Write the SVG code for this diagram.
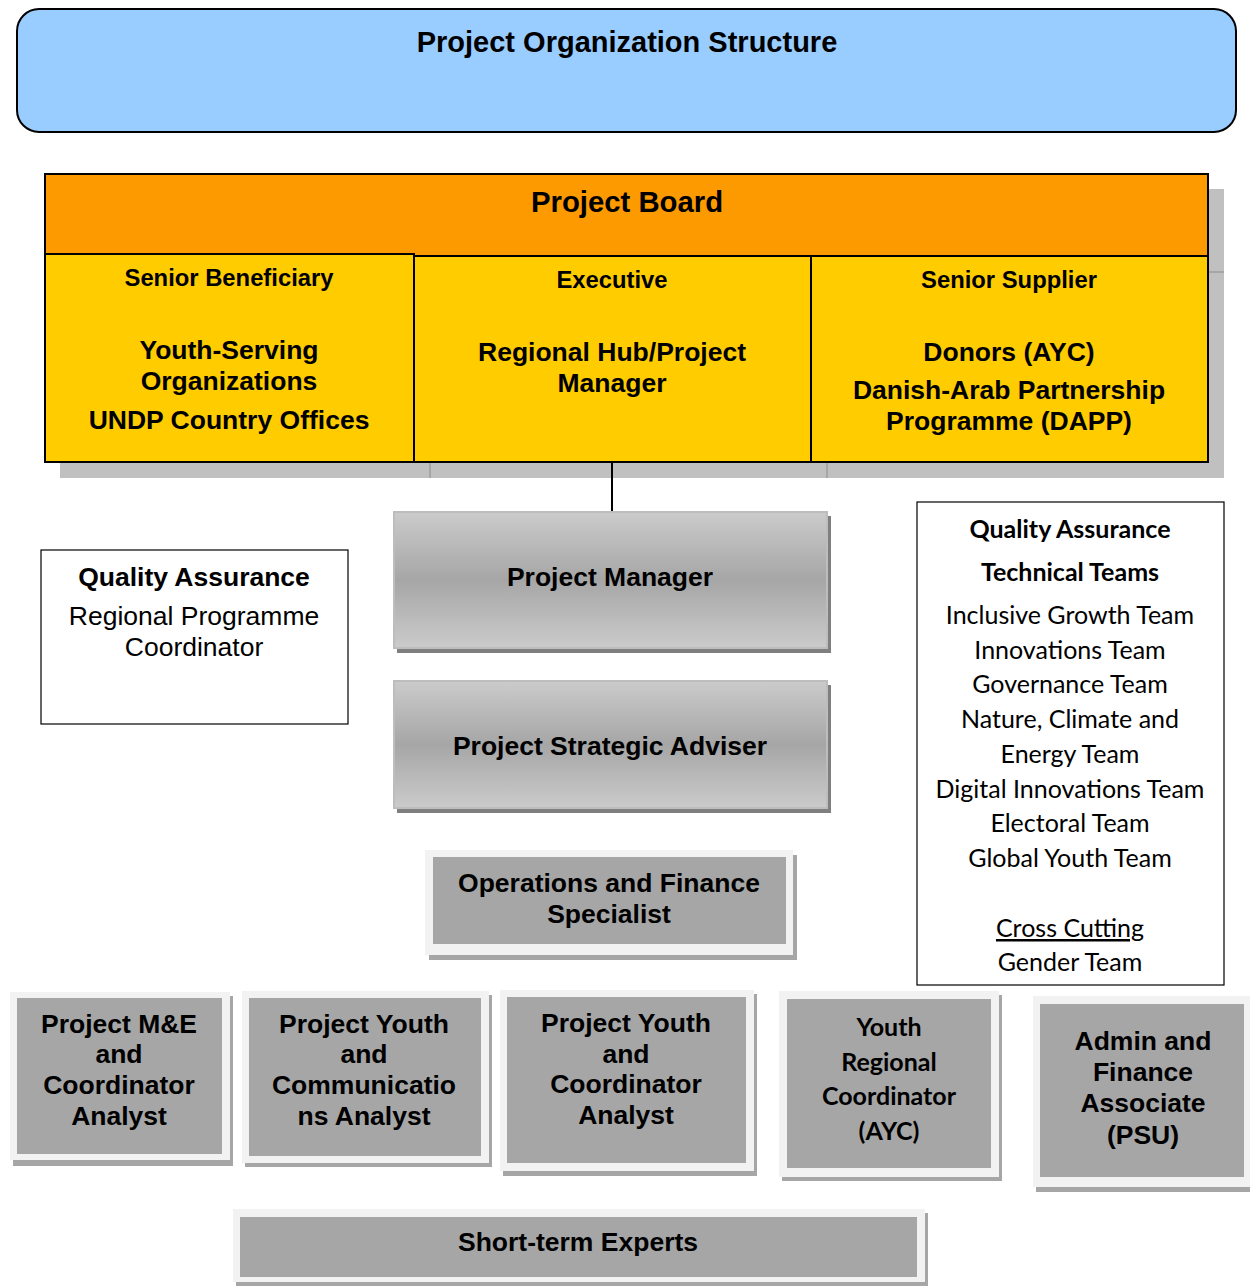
<svg xmlns="http://www.w3.org/2000/svg" width="1250" height="1286" viewBox="0 0 1250 1286">
  <defs>
    <linearGradient id="greyBand" x1="0" y1="0" x2="0" y2="1">
      <stop offset="0" stop-color="#cbcbcb"/>
      <stop offset="0.5" stop-color="#a6a6a6"/>
      <stop offset="1" stop-color="#cbcbcb"/>
    </linearGradient>
    <style>
      text { font-family: "Liberation Sans", Arial, sans-serif; fill: #000; text-anchor: middle; }
      .b { font-weight: bold; }
      .m { font-size: 26.5px; }
      .cal { font-family: "Lato", "Noto Sans", sans-serif; font-size: 25px; }
      .board { stroke: #000; stroke-width: 2; }
      .shadow { fill: #c0c0c0; }
      .gradBox { fill: url(#greyBand); stroke: #bdbdbd; stroke-width: 2; }
      .gradShadow { fill: #7f7f7f; }
      .frame { fill: #f2f2f2; }
      .frameShadow { fill: #a6a6a6; }
      .inner { fill: #a6a6a6; }
      .qa { fill: #fff; stroke: #000; stroke-width: 1.2; }
      .conn { stroke: #000; stroke-width: 2; fill: none; }
    </style>
  </defs>

  <rect width="1250" height="1286" fill="#fff"/>

  <!-- title banner -->
  <g id="title">
    <rect x="17" y="9" width="1219" height="123" rx="22" ry="22" fill="#99ccff" stroke="#000" stroke-width="2"/>
    <text x="627" y="52" class="b" font-size="29">Project Organization Structure</text>
  </g>

  <!-- project board with its three roles -->
  <g id="project-board">
    <rect class="shadow" x="60" y="189" width="1164" height="289"/>
    <line x1="1208" y1="272" x2="1224" y2="272" stroke="#a6a6a6" stroke-width="2"/>
    <line x1="430" y1="462" x2="430" y2="478" stroke="#a6a6a6" stroke-width="2"/>
    <line x1="827" y1="462" x2="827" y2="478" stroke="#a6a6a6" stroke-width="2"/>
    <rect class="board" x="45" y="174" width="1163" height="82" fill="#fc9a00"/>
    <text x="627" y="212" class="b" font-size="29.3">Project Board</text>
  </g>

  <g id="senior-beneficiary">
    <rect class="board" x="45" y="254" width="369" height="208" fill="#ffcc00"/>
    <text x="229" y="286" class="b" font-size="23.8">Senior Beneficiary</text>
    <text x="229" y="359" class="b m">Youth-Serving</text>
    <text x="229" y="390" class="b m">Organizations</text>
    <text x="229" y="429" class="b m">UNDP Country Offices</text>
  </g>

  <g id="executive">
    <rect class="board" x="414" y="256" width="397" height="206" fill="#ffcc00"/>
    <text x="612" y="288" class="b" font-size="23.8">Executive</text>
    <text x="612" y="361" class="b m">Regional Hub/Project</text>
    <text x="612" y="392" class="b m">Manager</text>
  </g>

  <g id="senior-supplier">
    <rect class="board" x="811" y="256" width="397" height="206" fill="#ffcc00"/>
    <text x="1009" y="288" class="b" font-size="23.8">Senior Supplier</text>
    <text x="1009" y="361" class="b m">Donors (AYC)</text>
    <text x="1009" y="399" class="b m">Danish-Arab Partnership</text>
    <text x="1009" y="430" class="b m">Programme (DAPP)</text>
  </g>

  <!-- connectors -->
  <g id="connectors">
    <line class="conn" x1="612" y1="463" x2="612" y2="512"/>
  </g>

  <!-- management line -->
  <g id="project-manager">
    <rect class="gradShadow" x="397" y="516" width="434" height="137"/>
    <rect class="gradBox" x="394" y="512" width="433" height="136"/>
    <text x="610" y="586" class="b m">Project Manager</text>
  </g>

  <g id="project-strategic-adviser">
    <rect class="gradShadow" x="397" y="685" width="434" height="128"/>
    <rect class="gradBox" x="394" y="681" width="433" height="127"/>
    <text x="610" y="755" class="b m">Project Strategic Adviser</text>
  </g>

  <g id="operations-finance">
    <rect class="frameShadow" x="429" y="855" width="368" height="105"/>
    <rect class="frame" x="425" y="850" width="368" height="105"/>
    <rect class="inner" x="433" y="857" width="353" height="87"/>
    <text x="609" y="892" class="b m">Operations and Finance</text>
    <text x="609" y="923" class="b m">Specialist</text>
  </g>

  <!-- assurance boxes -->
  <g id="qa-regional">
    <rect class="qa" x="41" y="550" width="307" height="174"/>
    <text x="194" y="586" class="b m">Quality Assurance</text>
    <text x="194" y="625" class="m">Regional Programme</text>
    <text x="194" y="656" class="m">Coordinator</text>
  </g>

  <g id="qa-technical-teams">
    <rect class="qa" x="917" y="502" width="307" height="483"/>
    <text x="1070" y="538" class="cal b">Quality Assurance</text>
    <text x="1070" y="581" class="cal b">Technical Teams</text>
    <text x="1070" y="624" class="cal">Inclusive Growth Team</text>
    <text x="1070" y="659" class="cal">Innovations Team</text>
    <text x="1070" y="693" class="cal">Governance Team</text>
    <text x="1070" y="728" class="cal">Nature, Climate and</text>
    <text x="1070" y="763" class="cal">Energy Team</text>
    <text x="1070" y="798" class="cal">Digital Innovations Team</text>
    <text x="1070" y="832" class="cal">Electoral Team</text>
    <text x="1070" y="867" class="cal">Global Youth Team</text>
    <text x="1070" y="937" class="cal" text-decoration="underline">Cross Cutting</text>
    <text x="1070" y="971" class="cal">Gender Team</text>
  </g>

  <!-- project staff -->
  <g id="me-analyst">
    <rect class="frameShadow" x="13" y="996" width="220" height="170"/>
    <rect class="frame" x="10" y="992" width="220" height="168"/>
    <rect class="inner" x="17" y="998" width="205" height="156"/>
    <text x="119" y="1033" class="b m">Project M&amp;E</text>
    <text x="119" y="1063" class="b m">and</text>
    <text x="119" y="1094" class="b m">Coordinator</text>
    <text x="119" y="1125" class="b m">Analyst</text>
  </g>

  <g id="youth-communications-analyst">
    <rect class="frameShadow" x="245" y="995" width="247" height="172"/>
    <rect class="frame" x="242" y="991" width="247" height="172"/>
    <rect class="inner" x="249" y="998" width="232" height="158"/>
    <text x="364" y="1033" class="b m">Project Youth</text>
    <text x="364" y="1063" class="b m">and</text>
    <text x="364" y="1094" class="b m">Communicatio</text>
    <text x="364" y="1125" class="b m">ns Analyst</text>
  </g>

  <g id="youth-coordinator-analyst">
    <rect class="frameShadow" x="503" y="994" width="254" height="182"/>
    <rect class="frame" x="500" y="990" width="254" height="181"/>
    <rect class="inner" x="507" y="997" width="239" height="166"/>
    <text x="626" y="1032" class="b m">Project Youth</text>
    <text x="626" y="1063" class="b m">and</text>
    <text x="626" y="1093" class="b m">Coordinator</text>
    <text x="626" y="1124" class="b m">Analyst</text>
  </g>

  <g id="youth-regional-coordinator">
    <rect class="frameShadow" x="782" y="995" width="220" height="186"/>
    <rect class="frame" x="779" y="991" width="220" height="186"/>
    <rect class="inner" x="787" y="999" width="204" height="169"/>
    <text x="889" y="1036" class="cal b">Youth</text>
    <text x="889" y="1071" class="cal b">Regional</text>
    <text x="889" y="1105" class="cal b">Coordinator</text>
    <text x="889" y="1140" class="cal b">(AYC)</text>
  </g>

  <g id="admin-finance-associate">
    <rect class="frameShadow" x="1036" y="1000" width="214" height="192"/>
    <rect class="frame" x="1033" y="996" width="217" height="191"/>
    <rect class="inner" x="1040" y="1004" width="204" height="173"/>
    <text x="1143" y="1050" class="b m">Admin and</text>
    <text x="1143" y="1081" class="b m">Finance</text>
    <text x="1143" y="1112" class="b m">Associate</text>
    <text x="1143" y="1144" class="b m">(PSU)</text>
  </g>

  <g id="short-term-experts">
    <rect class="frameShadow" x="236" y="1213" width="692" height="73"/>
    <rect class="frame" x="233" y="1209" width="692" height="73"/>
    <rect class="inner" x="240" y="1217" width="677" height="60"/>
    <text x="578" y="1251" class="b m">Short-term Experts</text>
  </g>
</svg>
